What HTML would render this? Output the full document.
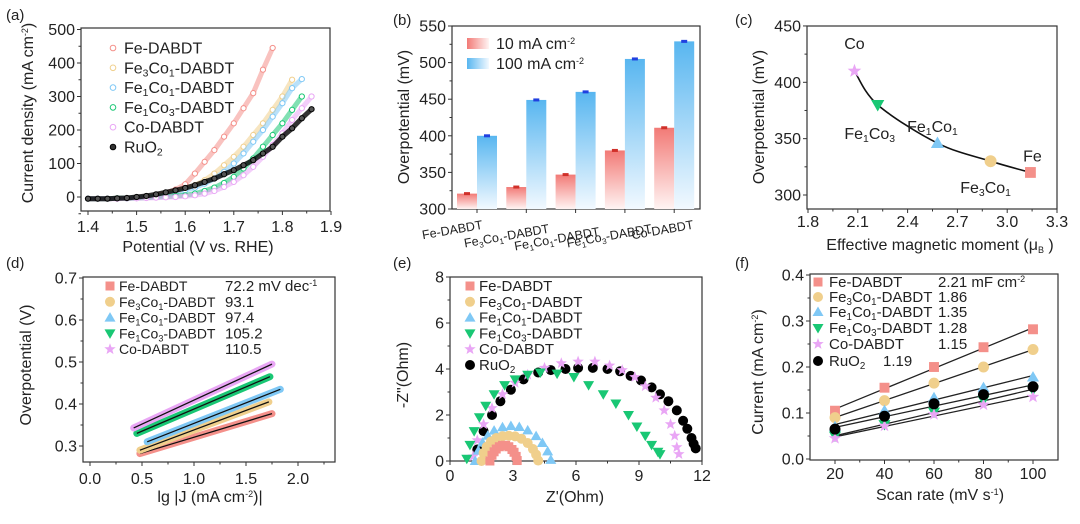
<!DOCTYPE html>
<html><head><meta charset="utf-8">
<style>
html,body{margin:0;padding:0;background:#fff;}
svg{display:block;font-family:"Liberation Sans","DejaVu Sans",sans-serif;}
text{fill:#222;}
</style></head>
<body>
<svg id="fig" width="1080" height="524" viewBox="0 0 1080 524">
<defs>
<linearGradient id="gR" x1="0" y1="0" x2="0" y2="1"><stop offset="0" stop-color="#f27a76"/><stop offset="1" stop-color="#fff4f3"/></linearGradient>
<linearGradient id="gB" x1="0" y1="0" x2="0" y2="1"><stop offset="0" stop-color="#58b6f0"/><stop offset="1" stop-color="#f2f9ff"/></linearGradient>
<linearGradient id="gRh" x1="0" y1="0" x2="1" y2="0"><stop offset="0" stop-color="#f27a76"/><stop offset="1" stop-color="#fff4f3"/></linearGradient>
<linearGradient id="gBh" x1="0" y1="0" x2="1" y2="0"><stop offset="0" stop-color="#58b6f0"/><stop offset="1" stop-color="#f2f9ff"/></linearGradient>
</defs>
</svg>
<script>
// ---------- shared ----------
const NAMES=['Fe-DABDT','Fe₃Co₁-DABDT','Fe₁Co₁-DABDT','Fe₁Co₃-DABDT','Co-DABDT','RuO₂'];
const COLORS=['#f4908a','#f0cf8c','#7fc8f5','#19c774','#e9a6f5','#000000'];
// ---------- panel a data ----------
const aV=[1.40,1.42,1.44,1.46,1.48,1.50,1.52,1.54,1.56,1.58,1.60,1.62,1.64,1.66,1.68,1.70,1.72,1.74,1.76,1.78,1.80,1.82,1.84,1.86];
const aJ_Fe=[-5,-5,-5,-4,-3,-2,0,5,12,22,38,70,105,140,180,220,265,310,380,445];
const aJ_Fe3Co1=[-5,-5,-5,-4,-3,-2,0,3,8,15,25,35,50,70,95,120,150,185,220,260,300,350];
const aJ_Fe1Co1=[-5,-5,-5,-4,-3,-2,0,2,6,12,20,28,40,55,75,100,130,165,200,240,280,325,352];
const aJ_Fe1Co3=[-5,-5,-5,-4,-4,-3,-2,0,1,3,5,10,18,28,42,60,85,115,150,185,220,260,300];
const aJ_Co=[-5,-5,-5,-5,-4,-4,-3,-2,-1,0,2,5,10,18,30,45,65,90,120,155,190,230,265,300];
const aJ_RuO2=[-5,-5,-5,-4,-3,0,3,8,14,20,27,35,45,55,68,80,95,110,130,150,180,205,235,262];
const aXTicks=[1.4,1.5,1.6,1.7,1.8,1.9];
const aYTicks=[0,100,200,300,400,500];
// ---------- panel b data ----------
const bCats=['Fe-DABDT','Fe₃Co₁-DABDT','Fe₁Co₁-DABDT','Fe₁Co₃-DABDT','Co-DABDT'];
const b10=[321,330,347,380,411];
const b100=[400,449,460,505,529];
const bYTicks=[300,350,400,450,500,550];
// ---------- panel c data ----------
const cLabels=['Co','Fe₁Co₃','Fe₁Co₁','Fe₃Co₁','Fe'];
const cMoment=[2.08,2.22,2.58,2.90,3.14];
const cEta=[410,380,346,330,320];
const cXTicks=[1.8,2.1,2.4,2.7,3.0,3.3];
const cYTicks=[300,350,400,450];
// ---------- panel d data ----------
const dX=[[0.48,1.75],[0.48,1.72],[0.55,1.83],[0.45,1.73],[0.42,1.75]];
const dY=[[0.282,0.377],[0.290,0.405],[0.310,0.435],[0.330,0.465],[0.343,0.495]];
const dSlopes=['72.2 mV dec','93.1','97.4','105.2','110.5'];
const dXTicks=[0,0.5,1.0,1.5,2.0];
const dYTicks=[0.3,0.4,0.5,0.6,0.7];
// ---------- panel e data ----------
const eX_Fe=[1.9,2.0,2.1,2.2,2.35,2.5,2.65,2.8,2.95,3.05,3.15,3.2];
const eY_Fe=[0,0.25,0.4,0.52,0.62,0.68,0.68,0.62,0.5,0.38,0.2,0.02];
const eX_Fe3Co1=[1.5,1.6,1.75,1.95,2.2,2.5,2.8,3.1,3.4,3.7,3.95,4.1,4.2];
const eY_Fe3Co1=[0,0.35,0.62,0.85,1.0,1.08,1.1,1.07,0.97,0.78,0.52,0.28,0.02];
const eX_Fe1Co1=[1.2,1.35,1.55,1.8,2.1,2.5,2.9,3.3,3.7,4.1,4.4,4.65,4.8];
const eY_Fe1Co1=[0,0.45,0.8,1.1,1.32,1.47,1.52,1.48,1.33,1.08,0.78,0.42,0.05];
const eX_Fe1Co3=[0.8,0.95,1.15,1.4,1.7,2.1,2.6,3.1,3.7,4.3,5.1,5.9,6.6,7.3,7.9,8.5,8.9,9.3,9.6,9.9,10.0];
const eY_Fe1Co3=[0.1,0.7,1.3,1.9,2.4,2.9,3.3,3.55,3.75,3.85,3.8,3.65,3.3,2.9,2.5,2.0,1.5,1.1,0.7,0.4,0.3];
const eX_Co=[1.1,1.3,1.6,2.0,2.5,3.1,3.7,4.5,5.3,6.1,6.9,7.6,8.2,8.8,9.3,9.8,10.2,10.5,10.7,10.8,10.9];
const eY_Co=[0.2,0.9,1.6,2.3,2.9,3.4,3.75,4.05,4.25,4.32,4.32,4.15,3.95,3.65,3.25,2.75,2.2,1.6,1.1,0.6,0.3];
const eX_RuO2=[1.3,1.6,2.0,2.4,2.9,3.5,4.2,4.8,5.5,6.1,6.8,7.5,8.1,8.6,9.1,9.6,10.0,10.4,10.8,11.1,11.3,11.5,11.6,11.7];
const eY_RuO2=[0.5,1.3,2.0,2.6,3.1,3.55,3.85,3.95,4.0,4.05,4.05,4.0,3.9,3.7,3.5,3.2,2.9,2.6,2.2,1.75,1.4,1.0,0.75,0.55];
const eXTicks=[0,3,6,9,12];
const eYTicks=[0,2,4,6,8];
// ---------- panel f data ----------
const fRate=[20,40,60,80,100];
const fI_Fe=[0.105,0.155,0.200,0.243,0.282];
const fI_Fe3Co1=[0.090,0.127,0.165,0.200,0.238];
const fI_Fe1Co1=[0.070,0.105,0.133,0.155,0.178];
const fI_Fe1Co3=[0.050,0.075,0.102,0.128,0.150];
const fI_Co=[0.045,0.072,0.097,0.118,0.135];
const fI_RuO2=[0.065,0.093,0.120,0.140,0.157];
const fCdl=['2.21 mF cm','1.86','1.35','1.28','1.15','1.19'];
const fYTicks=[0.0,0.1,0.2,0.3,0.4];

// ---------- helpers ----------
const NS='http://www.w3.org/2000/svg';
const svg=document.getElementById('fig');
function mk(tag,attrs,parent){const e=document.createElementNS(NS,tag);for(const k in attrs)e.setAttribute(k,attrs[k]);(parent||svg).appendChild(e);return e;}
function grp(name){const g=mk('g',{});
 
 
 return g;}
const SUBMAP={'₁':'1','₂':'2','₃':'3'};
function subs(s){return String(s).replace(/[₁₂₃]/g,c=>'<tspan baseline-shift="-3" font-size="0.65em">'+SUBMAP[c]+'</tspan>');}
function txt(p,x,y,s,size,anchor,name,rot){const t=mk('text',{x:x,y:y,'font-size':size,'text-anchor':anchor||'start'},p);
 
 
 t.innerHTML=subs(s);if(rot)t.setAttribute('transform','rotate('+rot+' '+x+' '+y+')');return t;}
const SUP=s=>'<tspan baseline-shift="5" font-size="9">'+s+'</tspan>';
function marker(p,type,x,y,s,fill,stroke){let e;
 if(type==='circle')e=mk('circle',{cx:x,cy:y,r:s},p);
 else if(type==='square')e=mk('rect',{x:x-s*0.9,y:y-s*0.9,width:s*1.8,height:s*1.8},p);
 else if(type==='up')e=mk('polygon',{points:`${x},${y-s*1.1} ${x+s*1.1},${y+s*0.8} ${x-s*1.1},${y+s*0.8}`},p);
 else if(type==='down')e=mk('polygon',{points:`${x},${y+s*1.1} ${x+s*1.1},${y-s*0.8} ${x-s*1.1},${y-s*0.8}`},p);
 else {let pts=[];for(let i=0;i<10;i++){const r=i%2?s*0.5:s*1.2;const a=-Math.PI/2+i*Math.PI/5;pts.push((x+r*Math.cos(a)).toFixed(1)+','+(y+r*Math.sin(a)).toFixed(1));}e=mk('polygon',{points:pts.join(' ')},p);}
 e.setAttribute('fill',fill);if(stroke)e.setAttribute('stroke',stroke);
 
 
 return e;}
function axes(p,x0,x1,y0,y1,xt,xfmt,sx,xminor,xlOff,yt,yfmt,sy,yminor){
 const f=mk('rect',{x:x0,y:y0,width:x1-x0,height:y1-y0,fill:'none',stroke:'#333','stroke-width':1.2},p);
 
 
 if(xt){xt.forEach(v=>{const X=sx(v);mk('line',{x1:X,y1:y1,x2:X,y2:y1+4,stroke:'#333'},p);
   txt(p,X,y1+xlOff,xfmt(v),16,'middle','x-tick-label');});
  (xminor||[]).forEach(v=>{const X=sx(v);mk('line',{x1:X,y1:y1,x2:X,y2:y1+2.5,stroke:'#333'},p);});}
 yt.forEach(v=>{const Y=sy(v);mk('line',{x1:x0,y1:Y,x2:x0-4,y2:Y,stroke:'#333'},p);
   txt(p,x0-6,Y+5.5,yfmt(v),16,'end','y-tick-label');});
 (yminor||[]).forEach(v=>{const Y=sy(v);mk('line',{x1:x0,y1:Y,x2:x0-2.5,y2:Y,stroke:'#333'},p);});
}
const TYPES=['square','circle','up','down','star','circle'];

// ---------- panel labels ----------
const gl=grp('panel-labels');
[['(a)',6,20],['(b)',393,25],['(c)',735,25],['(d)',6,268],['(e)',393,268],['(f)',735,268]].forEach(l=>txt(gl,l[1],l[2],l[0],15,'start','panel-label'));

// ---------- panel a ----------
(function(){const g=grp('panel-a-lsv');
 const sx=v=>88+(v-1.4)*486, sy=j=>197-j*0.335;
 axes(g,81,330,28,211,aXTicks,v=>v.toFixed(1),sx,[1.45,1.55,1.65,1.75,1.85],21,aYTicks,v=>v,sy,[50,150,250,350,450,-50]);
 txt(g,33,113,'Current density (mA cm'+SUP('-2')+')',16,'middle','y-axis-title',-90);
 txt(g,198,252,'Potential (V vs. RHE)',16,'middle','x-axis-title');
 const series=[aJ_Fe,aJ_Fe3Co1,aJ_Fe1Co1,aJ_Fe1Co3,aJ_Co,aJ_RuO2];
 [0,1,2,3,4,5].forEach(i=>{const J=series[i];const s=grp('lsv-curve-'+i);g.appendChild(s);
  const pts=J.map((j,k)=>sx(aV[k]).toFixed(1)+','+sy(j).toFixed(1)).join(' ');
  mk('polyline',{points:pts,fill:'none',stroke:COLORS[i],'stroke-width':5,'stroke-opacity':i===5?0.8:0.55,'stroke-linejoin':'round'},s);
  J.forEach((j,k)=>marker(s,'circle',sx(aV[k]),sy(j),2.6,i===5?'#555':'#fff',COLORS[i]));});
 [0,1,2,3,4,5].forEach(i=>{const y=48+i*19.8;marker(g,'circle',113,y,2.8,i===5?'#333':'#fff',COLORS[i]);
  txt(g,124,y+5.5,NAMES[i],16,'start','legend-entry');});
})();

// ---------- panel b ----------
(function(){const g=grp('panel-b-bars');
 const sy=v=>209-(v-300)*0.732; const gx=i=>457+i*49.3;
 axes(g,452,700,26,209,null,null,null,null,0,bYTicks,v=>v,sy,[325,375,425,475,525]);
 txt(g,409,117,'Overpotential (mV)',16,'middle','y-axis-title',-90);
 const lblOff=[[-24,234],[-19,240],[-18,243],[-15,240],[-11,234]];
 bCats.forEach((c,i)=>{const x=gx(i);
  const r=mk('rect',{x:x,y:sy(b10[i]),width:20,height:209-sy(b10[i]),fill:'url(#gR)'},g);
  
  
  const b=mk('rect',{x:x+20,y:sy(b100[i]),width:20,height:209-sy(b100[i]),fill:'url(#gB)'},g);
  
  
  mk('rect',{x:x+7,y:sy(b10[i])-1.5,width:6,height:3,fill:'#d0302a'},g);
  mk('rect',{x:x+27,y:sy(b100[i])-1.5,width:6,height:3,fill:'#2040e0'},g);
  mk('line',{x1:x+20,y1:209,x2:x+20,y2:213,stroke:'#333'},g);
  txt(g,x+20+lblOff[i][0],lblOff[i][1],c,12.5,'middle','x-tick-label',-10);});
 mk('rect',{x:467,y:38,width:22,height:11,fill:'url(#gRh)'},g);
 mk('rect',{x:467,y:58,width:22,height:11,fill:'url(#gBh)'},g);
 txt(g,496,49,'10 mA cm'+SUP('-2'),16,'start','legend-entry');
 txt(g,496,69,'100 mA cm'+SUP('-2'),16,'start','legend-entry');
})();

// ---------- panel c ----------
(function(){const g=grp('panel-c-magnetic');
 const sx=m=>808+(m-1.8)*166, sy=v=>195-(v-300)*1.127;
 axes(g,807,1057,26,209,cXTicks,v=>v.toFixed(1),sx,[1.95,2.25,2.55,2.85,3.15],18,cYTicks,v=>v,sy,[325,375,425]);
 txt(g,764,117,'Overpotential (mV)',16,'middle','y-axis-title',-90);
 txt(g,940,250,'Effective magnetic moment (μ<tspan baseline-shift="-3" font-size="9">B</tspan> )',16,'middle','x-axis-title');
 const P=cMoment.map((m,i)=>[sx(m),sy(cEta[i])]);
 let d='M'+P[0][0]+','+P[0][1];
 for(let i=0;i<P.length-1;i++){const p0=P[Math.max(i-1,0)],p1=P[i],p2=P[i+1],p3=P[Math.min(i+2,P.length-1)];
  d+=` C${p1[0]+(p2[0]-p0[0])/6},${p1[1]+(p2[1]-p0[1])/6} ${p2[0]-(p3[0]-p1[0])/6},${p2[1]-(p3[1]-p1[1])/6} ${p2[0]},${p2[1]}`;}
 const c=mk('path',{d:d,fill:'none',stroke:'#111','stroke-width':1.6},g);
 
 
 const ct=['star','down','up','circle','square'], cc=[COLORS[4],COLORS[3],COLORS[2],COLORS[1],COLORS[0]];
 P.forEach((p,i)=>marker(g,ct[i],p[0],p[1],6,cc[i]));
 const off=[[0,-22],[-8,34],[-5,-11],[-5,32],[2,-11]];
 P.forEach((p,i)=>txt(g,p[0]+off[i][0],p[1]+off[i][1],cLabels[i],16,'middle','point-label'));
})();

// ---------- panel d ----------
(function(){const g=grp('panel-d-tafel');
 const sx=x=>90+x*104, sy=v=>446-(v-0.3)*420;
 axes(g,83,335,277,462,dXTicks,v=>v.toFixed(1),sx,[0.25,0.75,1.25,1.75,2.25],22,dYTicks,v=>v.toFixed(1),sy,[0.35,0.45,0.55,0.65]);
 txt(g,31,365,'Overpotential (V)',16,'middle','y-axis-title',-90);
 txt(g,210,502,'lg |J (mA cm'+SUP('-2')+')|',16,'middle','x-axis-title');
 dX.forEach((xs,i)=>{const s=grp('tafel-line-'+i);g.appendChild(s);
  mk('line',{x1:sx(xs[0]),y1:sy(dY[i][0]),x2:sx(xs[1]),y2:sy(dY[i][1]),stroke:COLORS[i],'stroke-width':7,'stroke-linecap':'round'},s);
  mk('line',{x1:sx(xs[0]),y1:sy(dY[i][0]),x2:sx(xs[1]),y2:sy(dY[i][1]),stroke:'#111','stroke-width':1.3},s);});
 dSlopes.forEach((v,i)=>{const y=286+i*15.8;marker(g,TYPES[i],110,y,5,COLORS[i]);
  txt(g,119,y+5,NAMES[i],14,'start','legend-entry');
  txt(g,225,y+5,i===0?v+SUP('-1'):v,15,'start','legend-value');});
})();

// ---------- panel e ----------
(function(){const g=grp('panel-e-nyquist');
 const sx=x=>450+x*21, sy=y=>461-y*23;
 axes(g,450,702,277,461,eXTicks,v=>v,sx,[1.5,4.5,7.5,10.5],20,eYTicks,v=>v,sy,[1,3,5,7]);
 txt(g,408,375,'-Z"(Ohm)',16,'middle','y-axis-title',-90);
 txt(g,575,502,"Z'(Ohm)",16,'middle','x-axis-title');
 const XS=[eX_Fe,eX_Fe3Co1,eX_Fe1Co1,eX_Fe1Co3,eX_Co,eX_RuO2], YS=[eY_Fe,eY_Fe3Co1,eY_Fe1Co1,eY_Fe1Co3,eY_Co,eY_RuO2];
 [5,4,3,2,1,0].forEach(i=>{const s=grp('nyquist-series-'+i);g.appendChild(s);
  XS[i].forEach((x,k)=>marker(s,TYPES[i],sx(x),sy(YS[i][k]),5,COLORS[i]));});
 NAMES.forEach((n,i)=>{const y=286+i*15.8;marker(g,TYPES[i],470,y,5,COLORS[i]);
  txt(g,479,y+5,n,15,'start','legend-entry');});
})();

// ---------- panel f ----------
(function(){const g=grp('panel-f-cdl');
 const sx=s=>835+(s-20)*2.475, sy=c=>459-c*460;
 axes(g,810,1058,274,460,fRate,v=>v,sx,[30,50,70,90],19,fYTicks,v=>v.toFixed(1),sy,[0.05,0.15,0.25,0.35]);
 txt(g,763,372,'Current (mA cm'+SUP('-2')+')',16,'middle','y-axis-title',-90);
 txt(g,940,500,'Scan rate (mV s'+SUP('-1')+')',16,'middle','x-axis-title');
 const S=[fI_Fe,fI_Fe3Co1,fI_Fe1Co1,fI_Fe1Co3,fI_Co,fI_RuO2];
 S.forEach((Y,i)=>{const s=grp('cdl-series-'+i);g.appendChild(s);
  const n=fRate.length,mx=fRate.reduce((a,b)=>a+b)/n,my=Y.reduce((a,b)=>a+b)/n;
  let num=0,den=0;fRate.forEach((x,k)=>{num+=(x-mx)*(Y[k]-my);den+=(x-mx)*(x-mx);});
  const m=num/den,b=my-m*mx;
  mk('line',{x1:sx(fRate[0]),y1:sy(m*fRate[0]+b),x2:sx(fRate[n-1]),y2:sy(m*fRate[n-1]+b),stroke:'#222','stroke-width':1.3},s);});
 S.forEach((Y,i)=>Y.forEach((v,k)=>marker(g,TYPES[i],sx(fRate[k]),sy(v),5.5,COLORS[i])));
 const ly=[282,297,312,328,344,361];
 fCdl.forEach((v,i)=>{marker(g,TYPES[i],818,ly[i],5,COLORS[i]);
  txt(g,829,ly[i]+5,NAMES[i],15,'start','legend-entry');
  txt(g,i===5?883:938,ly[i]+5,i===0?v+SUP('-2'):v,15,'start','legend-value');});
})();
</script>
</body></html>
